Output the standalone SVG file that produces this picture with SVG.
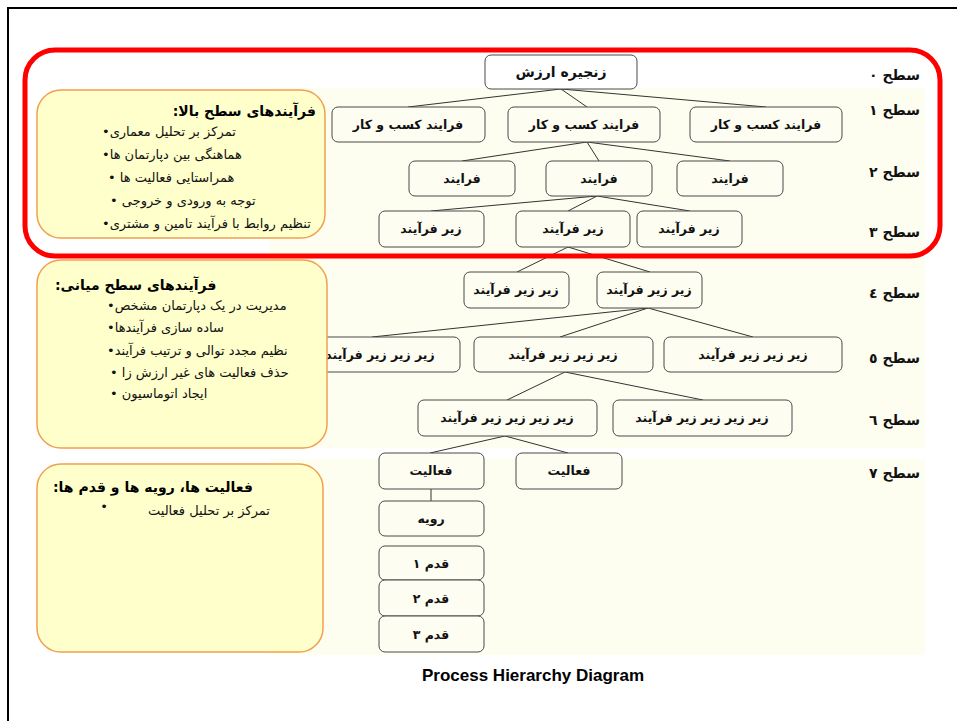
<svg xmlns="http://www.w3.org/2000/svg" width="957" height="721" viewBox="0 0 957 721">
  <style>
    .fa { font-family: "DejaVu Sans", "Noto Sans", sans-serif; direction: rtl; }
    .node rect { fill: #fdfdf1; stroke: #4a4a4a; stroke-width: 1; }
    .node text { font-size: 12.5px; font-weight: bold; fill: #111; text-anchor: middle; }
    .note rect { fill: #ffffcc; stroke: #f0a050; stroke-width: 1.5; }
    .note .title { font-size: 14px; font-weight: bold; fill: #000; }
    .note .item { font-size: 13px; fill: #111; }
    .lvl { font-size: 14px; font-weight: bold; fill: #111; text-anchor: start; }
    #connectors line { stroke: #333; stroke-width: 1; }
  </style>

  <rect x="0" y="0" width="957" height="721" fill="#fff"/>
  <!-- outer frame -->
  <rect x="8" y="8" width="970" height="740" fill="none" stroke="#000" stroke-width="2"/>

  <!-- pale bands behind the hierarchy -->
  <rect x="270" y="88" width="655" height="360" fill="#fdfdf0"/>
  <rect x="270" y="459" width="655" height="196" fill="#fdfdf0"/>

  <g id="connectors">
    <line x1="561" y1="89" x2="408" y2="107"/>
    <line x1="561" y1="89" x2="587" y2="107"/>
    <line x1="561" y1="89" x2="766" y2="107"/>
    <line x1="587" y1="142" x2="462" y2="161"/>
    <line x1="587" y1="142" x2="599" y2="161"/>
    <line x1="587" y1="142" x2="730" y2="161"/>
    <line x1="597" y1="196" x2="431" y2="211"/>
    <line x1="597" y1="196" x2="568" y2="211"/>
    <line x1="597" y1="196" x2="690" y2="211"/>
    <line x1="568" y1="247" x2="517" y2="272"/>
    <line x1="568" y1="247" x2="650" y2="272"/>
    <line x1="648" y1="308" x2="372" y2="337"/>
    <line x1="648" y1="308" x2="560" y2="337"/>
    <line x1="648" y1="308" x2="753" y2="337"/>
    <line x1="565" y1="372" x2="507" y2="400"/>
    <line x1="565" y1="372" x2="703" y2="400"/>
    <line x1="505" y1="436" x2="430" y2="453"/>
    <line x1="505" y1="436" x2="568" y2="453"/>
    <line x1="431" y1="489" x2="431" y2="501"/>
  </g>

  <!-- level 0 -->
  <g id="value-chain" class="node fa"><rect x="485" y="55" width="152" height="34" rx="6" style="fill:#fff"/><text x="561" y="77" style="font-size:14px">زنجیره ارزش</text></g>
  <!-- level 1 -->
  <g id="bp-1" class="node fa"><rect x="332" y="107" width="153" height="35" rx="6"/><text x="408" y="129">فرایند کسب و کار</text></g>
  <g id="bp-2" class="node fa"><rect x="508" y="107" width="152" height="35" rx="6"/><text x="584" y="129">فرایند کسب و کار</text></g>
  <g id="bp-3" class="node fa"><rect x="690" y="107" width="152" height="35" rx="6"/><text x="766" y="129">فرایند کسب و کار</text></g>
  <!-- level 2 -->
  <g id="p-1" class="node fa"><rect x="409" y="161" width="106" height="35" rx="6"/><text x="462" y="183">فرایند</text></g>
  <g id="p-2" class="node fa"><rect x="546" y="161" width="106" height="35" rx="6"/><text x="599" y="183">فرایند</text></g>
  <g id="p-3" class="node fa"><rect x="677" y="161" width="106" height="35" rx="6"/><text x="730" y="183">فرایند</text></g>
  <!-- level 3 -->
  <g id="sp-1" class="node fa"><rect x="379" y="211" width="105" height="36" rx="6"/><text x="431" y="233">زیر فرآیند</text></g>
  <g id="sp-2" class="node fa"><rect x="516" y="211" width="114" height="36" rx="6"/><text x="573" y="233">زیر فرآیند</text></g>
  <g id="sp-3" class="node fa"><rect x="637" y="211" width="105" height="36" rx="6"/><text x="689" y="233">زیر فرآیند</text></g>
  <!-- level 4 -->
  <g id="ssp-1" class="node fa"><rect x="464" y="272" width="105" height="36" rx="6"/><text x="516" y="294">زیر زیر فرآیند</text></g>
  <g id="ssp-2" class="node fa"><rect x="597" y="272" width="105" height="36" rx="6"/><text x="649" y="294">زیر زیر فرآیند</text></g>
  <!-- level 5 -->
  <g id="sssp-1" class="node fa"><rect x="300" y="337" width="160" height="35" rx="6"/><text x="380" y="359">زیر زیر زیر فرآیند</text></g>
  <g id="sssp-2" class="node fa"><rect x="474" y="337" width="179" height="35" rx="6"/><text x="563" y="359">زیر زیر زیر فرآیند</text></g>
  <g id="sssp-3" class="node fa"><rect x="664" y="337" width="178" height="35" rx="6"/><text x="753" y="359">زیر زیر زیر فرآیند</text></g>
  <!-- level 6 -->
  <g id="ssssp-1" class="node fa"><rect x="418" y="400" width="179" height="36" rx="6"/><text x="507" y="422">زیر زیر زیر زیر فرآیند</text></g>
  <g id="ssssp-2" class="node fa"><rect x="613" y="400" width="179" height="36" rx="6"/><text x="702" y="422">زیر زیر زیر زیر فرآیند</text></g>
  <!-- level 7 -->
  <g id="activity-1" class="node fa"><rect x="379" y="453" width="105" height="36" rx="6"/><text x="431" y="475">فعالیت</text></g>
  <g id="activity-2" class="node fa"><rect x="516" y="453" width="106" height="36" rx="6"/><text x="569" y="475">فعالیت</text></g>
  <g id="procedure" class="node fa"><rect x="379" y="501" width="105" height="35" rx="6"/><text x="431" y="523">رویه</text></g>
  <g id="step-1" class="node fa"><rect x="379" y="546" width="105" height="34" rx="6"/><text x="431" y="568">قدم ۱</text></g>
  <g id="step-2" class="node fa"><rect x="379" y="580" width="105" height="36" rx="6"/><text x="431" y="603">قدم ۲</text></g>
  <g id="step-3" class="node fa"><rect x="379" y="616" width="105" height="36" rx="6"/><text x="431" y="639">قدم ۳</text></g>

  <!-- side notes -->
  <g id="note-high" class="note fa">
    <rect x="37" y="90" width="288" height="148" rx="24"/>
    <text class="title" x="316" y="116" text-anchor="start">فرآیندهای سطح بالا:</text>
    <text class="item" x="102" y="136" text-anchor="end">تمرکز بر تحلیل معماری•</text>
    <text class="item" x="102" y="159" text-anchor="end">هماهنگی بین دپارتمان ها•</text>
    <text class="item" x="108" y="182" text-anchor="end">همراستایی فعالیت ها •</text>
    <text class="item" x="110" y="205" text-anchor="end">توجه به ورودی و خروجی •</text>
    <text class="item" x="102" y="228" text-anchor="end">تنظیم روابط با فرآیند تامین و مشتری•</text>
  </g>
  <g id="note-mid" class="note fa">
    <rect x="37" y="260" width="290" height="188" rx="24"/>
    <text class="title" x="55" y="290" text-anchor="end">فرآیندهای سطح میانی:</text>
    <text class="item" x="107" y="310" text-anchor="end">مدیریت در یک دپارتمان مشخص•</text>
    <text class="item" x="107" y="332" text-anchor="end">ساده سازی فرآیندها•</text>
    <text class="item" x="107" y="355" text-anchor="end">نظیم مجدد توالی و ترتیب فرآیند•</text>
    <text class="item" x="110" y="377" text-anchor="end">حذف فعالیت های غیر ارزش زا •</text>
    <text class="item" x="110" y="398" text-anchor="end">ایجاد اتوماسیون •</text>
  </g>
  <g id="note-activity" class="note fa">
    <rect x="37" y="464" width="286" height="188" rx="24"/>
    <text class="title" x="53" y="492" text-anchor="end">فعالیت ها، رویه ها و قدم ها:</text>
    <text class="item" x="104" y="511" text-anchor="middle">•</text>
    <text class="item" x="270" y="515" text-anchor="start">تمرکز بر تحلیل فعالیت</text>
  </g>

  <!-- top-level highlight -->
  <rect x="25" y="50" width="915" height="206" rx="30" fill="none" stroke="#ff0000" stroke-width="5"/>

  <!-- level labels -->
  <g id="levels" class="fa">
    <text class="lvl" x="920" y="80">سطح ۰</text>
    <text class="lvl" x="920" y="115">سطح ۱</text>
    <text class="lvl" x="920" y="177">سطح ۲</text>
    <text class="lvl" x="920" y="237">سطح ۳</text>
    <text class="lvl" x="920" y="298">سطح ٤</text>
    <text class="lvl" x="920" y="363">سطح ٥</text>
    <text class="lvl" x="920" y="425">سطح ٦</text>
    <text class="lvl" x="920" y="478">سطح ۷</text>
  </g>

  <text x="533" y="681" text-anchor="middle" font-family="Liberation Sans, Arial, sans-serif" font-size="17" font-weight="bold" fill="#000">Process Hierarchy Diagram</text>
</svg>
